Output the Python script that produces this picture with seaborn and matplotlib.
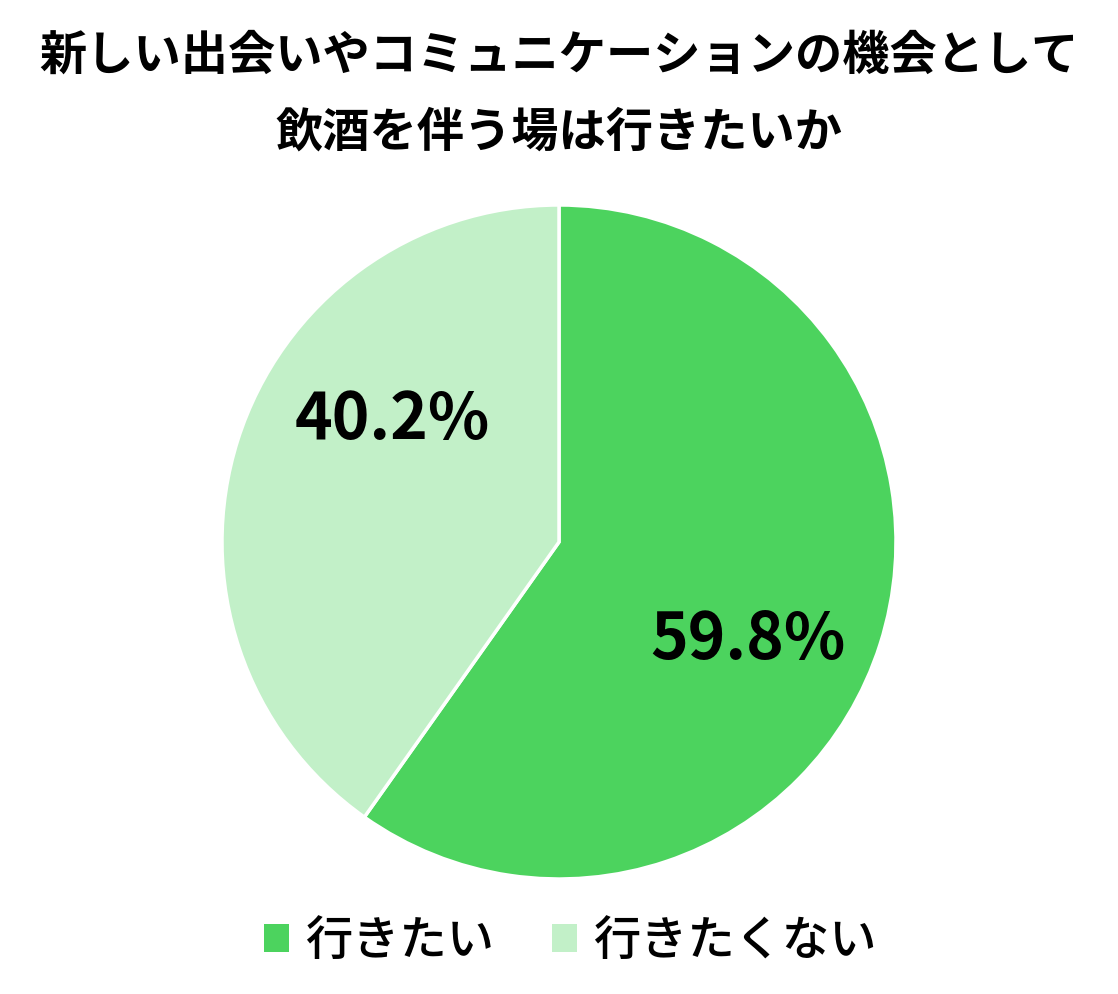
import matplotlib
matplotlib.use('Agg')
import matplotlib.pyplot as plt
import seaborn as sns
from matplotlib.patches import Patch

# Data
labels = ['行きたい', '行きたくない']
values = [59.8, 40.2]
colors = ['#4cd35e', '#c2f0c8']
title_lines = ['新しい出会いやコミュニケーションの機会として', '飲酒を伴う場は行きたいか']

sns.set_theme(style='white')
plt.rcParams['font.family'] = ['Noto Sans CJK JP', 'DejaVu Sans']

fig = plt.figure(figsize=(11.18, 9.95), dpi=100)
cx, cy, r = 559, 543, 337
ax = fig.add_axes([(cx - r) / 1118, (995 - cy - r) / 995, 2 * r / 1118, 2 * r / 995])

wedges, _ = ax.pie(values, colors=colors, startangle=90, counterclock=False,
                   radius=1.0, wedgeprops=dict(edgecolor='white', linewidth=2.5))
ax.set_xlim(-1, 1)
ax.set_ylim(-1, 1)
ax.set_aspect('equal')
ax.axis('off')

# Percentage labels
label_pos = [(0.56, -0.29), (-0.495, 0.365)]
for v, (x, y) in zip(values, label_pos):
    ax.text(x, y, f'{v:.1f}%', ha='center', va='center', fontsize=46,
            fontweight='bold', color='black')

# Title (two lines)
for line, ypx in zip(title_lines, [56, 133]):
    fig.text(0.5, 1 - ypx / 995, line, ha='center', va='center', fontsize=34,
             fontweight='bold', color='black')

handles = [Patch(facecolor=c, edgecolor='none') for c in colors]
leg = fig.legend(handles, labels, loc='center', bbox_to_anchor=(570 / 1118, 1 - 942 / 995),
                 ncol=2, frameon=False, fontsize=34, handlelength=0.53, handleheight=0.53,
                 handletextpad=0.34, columnspacing=1.23,
                 prop={'size': 34, 'weight': 'medium'})
for t in leg.get_texts():
    t.set_color('black')

fig.savefig('out.png', dpi=100)
